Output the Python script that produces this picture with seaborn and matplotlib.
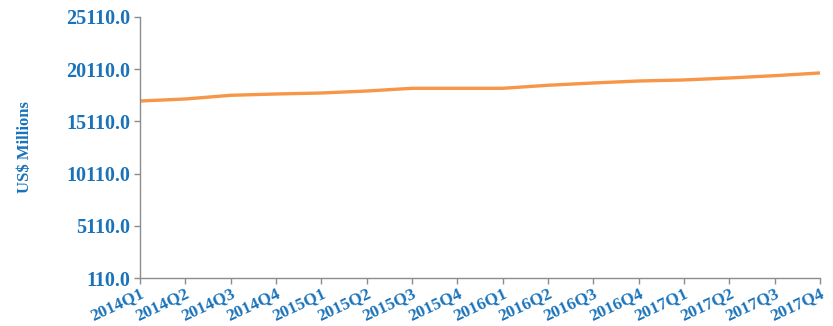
import matplotlib
matplotlib.use("Agg")
import matplotlib.pyplot as plt
import seaborn as sns
import pandas as pd

quarters = ["2014Q1", "2014Q2", "2014Q3", "2014Q4",
            "2015Q1", "2015Q2", "2015Q3", "2015Q4",
            "2016Q1", "2016Q2", "2016Q3", "2016Q4",
            "2017Q1", "2017Q2", "2017Q3", "2017Q4"]
values = [17064, 17256, 17610, 17735,
          17830, 18020, 18280, 18280,
          18280, 18570, 18790, 18980,
          19080, 19270, 19490, 19750]
y_ticks = [110, 5110, 10110, 15110, 20110, 25110]

sns.set_theme(style="white")
plt.rcParams['font.family'] = ['Liberation Serif', 'DejaVu Serif']

blue = "#1a73ba"
orange = "#f79646"
gray = "#8c8c8c"

df = pd.DataFrame({"quarter": quarters, "value": values})
df["pos"] = range(len(quarters))

fig = plt.figure(figsize=(8.33, 3.26), dpi=100)
ax = fig.add_axes([140/833, 1-278/326, (820-140)/833, (278-17)/326])
sns.lineplot(data=df, x="pos", y="value", ax=ax, color=orange, linewidth=2.4)

ax.set_xlim(0, len(quarters) - 1)
ax.set_ylim(110, 25110)
ax.set_yticks(y_ticks)
ax.set_yticklabels([f"{v:.1f}" for v in y_ticks], fontsize=14.5, fontweight="bold", color=blue)
ax.set_xticks(df["pos"])
ax.set_xticklabels(quarters, fontsize=12.5, fontweight="bold", color=blue,
                   rotation=25, ha="right", rotation_mode="anchor")
ax.tick_params(axis="x", pad=2)
ax.set_xlabel("")
ax.set_ylabel("US$ Millions", fontsize=12, fontweight="bold", color=blue, labelpad=24)

for s in ["top", "right"]:
    ax.spines[s].set_visible(False)
for s in ["left", "bottom"]:
    ax.spines[s].set_color(gray)
    ax.spines[s].set_linewidth(1.0)
ax.tick_params(axis="both", which="both", direction="out", length=4, width=1,
               color=gray, bottom=True, left=True)
ax.tick_params(axis="y", pad=3)
ax.tick_params(axis="x", pad=1)
ax.grid(False)

fig.savefig("out.png", dpi=100)
